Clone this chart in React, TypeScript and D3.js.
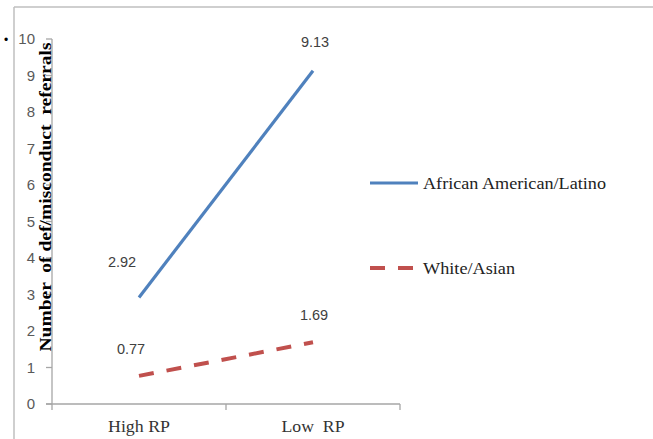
import React from "react";
import * as d3 from "d3";

const categories = ["High RP", "Low  RP"];
const seriesNames = ["African American/Latino", "White/Asian"];
const africanLatino = [2.92, 9.13];
const whiteAsian = [0.77, 1.69];
const yTicks = [0, 1, 2, 3, 4, 5, 6, 7, 8, 9, 10];
const yTitle = "Number  of def/misconduct  referrals";

const W = 653;
const H = 439;

export default function App() {
  const x = d3.scaleBand<string>().domain(categories).range([52, 400]).padding(0);
  const y = d3.scaleLinear().domain([0, 10]).range([404, 39]);
  const cx = (c: string) => (x(c) as number) + x.bandwidth() / 2;
  const line = d3
    .line<number>()
    .x((_, i) => cx(categories[i]))
    .y((d) => y(d));

  const series = [
    { name: seriesNames[0], values: africanLatino, color: "#4f81bd", dash: "none", width: 3.2, legendLen: 183 },
    { name: seriesNames[1], values: whiteAsian, color: "#c0504d", dash: "15 13", width: 4, legendLen: 92 },
  ];

  const labelPos = [
    [
      [-17, -30],
      [2, -24],
    ],
    [
      [-8, -22],
      [1, -22],
    ],
  ];

  const axisColor = "#a6a6a6";
  const bandEdges = [52, 226, 400];
  const xLabelLen = [62, 63];

  return (
    <svg
      width={W}
      height={H}
      style={{ position: "absolute", left: 0, top: 0, background: "#fff" }}
    >
      <line x1={14} y1={7} x2={W} y2={7} stroke="#bfbfbf" strokeWidth={1.5} />
      <line x1={14} y1={7} x2={14} y2={H} stroke="#bfbfbf" strokeWidth={1.5} />
      <text x={4} y={44} fontFamily="Liberation Sans, Arial" fontSize={12} fill="#000">•</text>

      <line x1={52} y1={y(10)} x2={52} y2={410} stroke={axisColor} strokeWidth={1.3} />
      {yTicks.map((t) => (
        <g key={t}>
          <line x1={46} x2={52} y1={y(t)} y2={y(t)} stroke={axisColor} strokeWidth={1.3} />
          <text
            x={35}
            y={y(t)}
            dy="0.35em"
            textAnchor="end"
            fontFamily="Liberation Sans, Arial, sans-serif"
            fontSize={15}
            fill="#595959"
          >
            {t}
          </text>
        </g>
      ))}

      <line x1={46} x2={400} y1={y(0)} y2={y(0)} stroke={axisColor} strokeWidth={1.3} />
      {bandEdges.slice(1).map((e) => (
        <line key={e} x1={e} x2={e} y1={y(0)} y2={410} stroke={axisColor} strokeWidth={1.3} />
      ))}
      {categories.map((c, i) => (
        <text
          key={c}
          x={cx(c)}
          y={432}
          textAnchor="middle"
          fontFamily="Liberation Serif, Times New Roman, serif"
          fontSize={17}
          fill="#333"
          style={{ whiteSpace: "pre" }}
          xmlSpace="preserve"
          textLength={xLabelLen[i]}
          lengthAdjust="spacingAndGlyphs"
        >
          {c}
        </text>
      ))}

      <text
        transform={`translate(51,197) rotate(-90)`}
        textAnchor="middle"
        fontFamily="Liberation Serif, Times New Roman, serif"
        fontWeight="bold"
        fontSize={17}
        fill="#000"
        xmlSpace="preserve"
        style={{ whiteSpace: "pre" }}
        textLength={309}
        lengthAdjust="spacingAndGlyphs"
      >
        {yTitle}
      </text>

      {series.map((s, si) => (
        <g key={s.name}>
          <path
            d={line(s.values) as string}
            fill="none"
            stroke={s.color}
            strokeWidth={s.width}
            strokeDasharray={s.dash}
          />
          {s.values.map((v, i) => (
            <text
              key={i}
              x={cx(categories[i]) + labelPos[si][i][0]}
              y={y(v) + labelPos[si][i][1]}
              textAnchor="middle"
              fontFamily="Liberation Sans, Arial, sans-serif"
              fontSize={14.5}
              fill="#404040"
            >
              {v.toFixed(2)}
            </text>
          ))}
        </g>
      ))}

      {series.map((s, si) => {
        const ly = si === 0 ? 183 : 268;
        return (
          <g key={s.name}>
            <line
              x1={370}
              x2={418}
              y1={ly}
              y2={ly}
              stroke={s.color}
              strokeWidth={s.width}
              strokeDasharray={si === 1 ? "15 13" : "none"}
            />
            <text
              x={423}
              y={ly + 6}
              fontFamily="Liberation Serif, Times New Roman, serif"
              fontSize={17}
              fill="#222"
              textLength={s.legendLen}
              lengthAdjust="spacingAndGlyphs"
            >
              {s.name}
            </text>
          </g>
        );
      })}
    </svg>
  );
}
